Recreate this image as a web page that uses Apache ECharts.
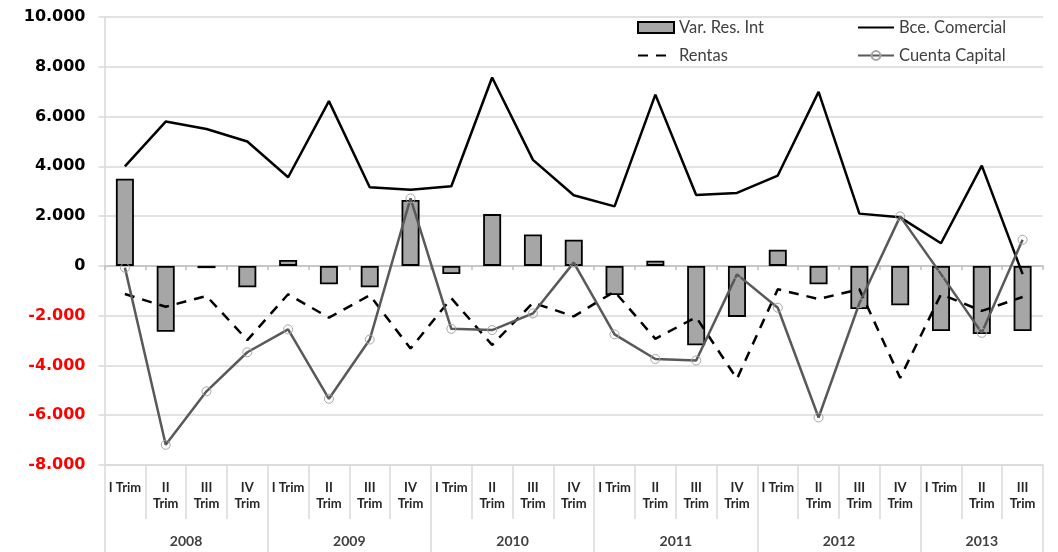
<!DOCTYPE html>
<html><head><meta charset="utf-8">
<script src="https://cdn.jsdelivr.net/npm/echarts@6/dist/echarts.min.js"></script>
<style>html,body{margin:0;padding:0;background:#fff}#c{width:1058px;height:552px}</style>
</head><body><div id="c"></div>
<script>
const years = ['2008','2009','2010','2011','2012','2013'];
const quartersPerYear = [4,4,4,4,4,3];
const quarterNames = ['I Trim','II\nTrim','III\nTrim','IV\nTrim'];
const yTicks = [-8000,-6000,-4000,-2000,0,2000,4000,6000,8000,10000];

const varResInt = [3500,-2650,-90,-860,240,-740,-860,2650,-330,2080,1260,1050,-1170,210,-3190,-2050,650,-740,-1730,-1580,-2620,-2740,-2620];
const bceComercial = [4000,5800,5500,5000,3560,6620,3160,3060,3200,7570,4260,2840,2390,6880,2850,2930,3630,6990,2100,1950,910,4030,-330];
const rentas = [-1130,-1640,-1210,-2980,-1140,-2080,-1180,-3320,-1300,-3180,-1480,-2030,-1030,-2930,-2060,-4540,-940,-1330,-940,-4500,-1140,-1810,-1250];
const cuentaCapital = [-70,-7190,-5040,-3470,-2550,-5340,-2960,2710,-2530,-2580,-1910,130,-2750,-3740,-3800,-340,-1680,-6090,-1500,1990,-330,-2690,1050];

const categories = [];
const yearBounds = [0];
const yearCenters = [];
quartersPerYear.forEach((n) => {
  for (let q = 0; q < n; q++) categories.push(quarterNames[q]);
  const start = yearBounds[yearBounds.length - 1];
  yearBounds.push(start + n);
  yearCenters.push(start + n / 2);
});

function fmt(v) {
  const s = Math.abs(v).toString().replace(/\B(?=(\d{3})+(?!\d))/g, '.');
  return (v < 0 ? '-' : '') + s;
}

const FONT = 'Lato';
const GRID = { left: 104.5, right: 15, top: 17, bottom: 87 };
const grayLine = '#d9d9d9';
const hiddenSymbol = { color: 'rgba(0,0,0,0)', borderColor: 'rgba(0,0,0,0)', borderWidth: 0 };
const legendCommon = {
  orient: 'vertical', top: 14, itemWidth: 36, itemHeight: 11, itemGap: 11,
  textStyle: { fontFamily: FONT, fontSize: 16.5, color: '#404040' }
};

const chart = echarts.init(document.getElementById('c'), null, { renderer: 'canvas' });
chart.setOption({
  backgroundColor: '#fff',
  animation: false,
  legend: [
    Object.assign({}, legendCommon, {
      left: 632,
      data: [{ name: 'Var. Res. Int', icon: 'rect' }, { name: 'Rentas', itemStyle: hiddenSymbol }]
    }),
    Object.assign({}, legendCommon, {
      left: 852,
      data: [{ name: 'Bce. Comercial', itemStyle: hiddenSymbol }, { name: 'Cuenta Capital' }]
    })
  ],
  grid: [
    Object.assign({}, GRID),
    Object.assign({}, GRID),
    Object.assign({}, GRID)
  ],
  xAxis: [
    {
      gridIndex: 0, type: 'category', data: categories, boundaryGap: true,
      axisLine: { onZero: true, lineStyle: { color: '#bfbfbf', width: 1.5 } },
      axisTick: { show: true, length: 4, interval: 0, lineStyle: { color: '#bfbfbf', width: 1.5 } },
      axisLabel: { show: false }, splitLine: { show: false }
    },
    {
      gridIndex: 1, type: 'category', data: categories, boundaryGap: true, position: 'bottom',
      axisLine: { onZero: false, lineStyle: { color: grayLine, width: 1.5 } },
      axisTick: { show: true, length: 54, interval: 0, lineStyle: { color: grayLine, width: 1.5 } },
      axisLabel: { interval: 0, margin: 15, fontFamily: FONT, fontSize: 13, fontWeight: 'bold', lineHeight: 16, color: '#262626' },
      splitLine: { show: false }
    },
    {
      gridIndex: 2, type: 'value', min: 0, max: yearBounds[yearBounds.length - 1], position: 'bottom',
      axisLine: { show: false, onZero: false },
      axisTick: { show: true, customValues: yearBounds, length: 90, lineStyle: { color: grayLine, width: 1.5 } },
      axisLabel: {
        customValues: yearCenters, margin: 69, fontFamily: FONT, fontSize: 14, fontWeight: 'bold', color: '#404040',
        formatter: v => { const i = yearCenters.findIndex(c => Math.abs(c - v) < 1e-6); return i >= 0 ? years[i] : ''; }
      },
      splitLine: { show: false }
    }
  ],
  yAxis: [
    {
      gridIndex: 0, type: 'value', min: yTicks[0], max: yTicks[yTicks.length - 1], interval: 2000,
      axisLine: { show: true, lineStyle: { color: grayLine, width: 1.5 } },
      axisTick: { show: true, length: 6, lineStyle: { color: grayLine, width: 1.5 } },
      splitLine: { show: true, lineStyle: { color: grayLine, width: 1.5 } },
      axisLabel: {
        margin: 19,
        formatter: v => (v < 0 ? '{n|' : '{p|') + fmt(v) + '}',
        rich: {
          p: { fontFamily: 'DejaVu Sans', fontWeight: 'bold', fontSize: 16, color: '#000' },
          n: { fontFamily: 'DejaVu Sans', fontWeight: 'bold', fontSize: 16, color: '#ff0000' }
        }
      }
    },
    { gridIndex: 1, type: 'value', show: false, min: yTicks[0], max: yTicks[yTicks.length - 1] },
    { gridIndex: 2, type: 'value', show: false, min: yTicks[0], max: yTicks[yTicks.length - 1] }
  ],
  series: [
    {
      name: 'Var. Res. Int', type: 'bar', xAxisIndex: 0, yAxisIndex: 0, data: varResInt, barWidth: 18,
      itemStyle: { color: '#a6a6a6', borderColor: '#000', borderWidth: 1.8 }
    },
    {
      name: 'Bce. Comercial', type: 'line', xAxisIndex: 0, yAxisIndex: 0, data: bceComercial,
      symbol: 'none', lineStyle: { color: '#000', width: 2.5 }, itemStyle: { color: '#000' }
    },
    {
      name: 'Rentas', type: 'line', xAxisIndex: 0, yAxisIndex: 0, data: rentas,
      symbol: 'none', lineStyle: { color: '#000', width: 2.5, type: [10, 8] }, itemStyle: { color: '#000' }
    },
    {
      name: 'Cuenta Capital', type: 'line', xAxisIndex: 0, yAxisIndex: 0, data: cuentaCapital,
      symbol: 'circle', symbolSize: 9, showSymbol: true,
      lineStyle: { color: '#595959', width: 2.5 },
      itemStyle: { color: 'rgba(255,255,255,0)', borderColor: '#a6a6a6', borderWidth: 1 }
    }
  ]
});
</script>
</body></html>
